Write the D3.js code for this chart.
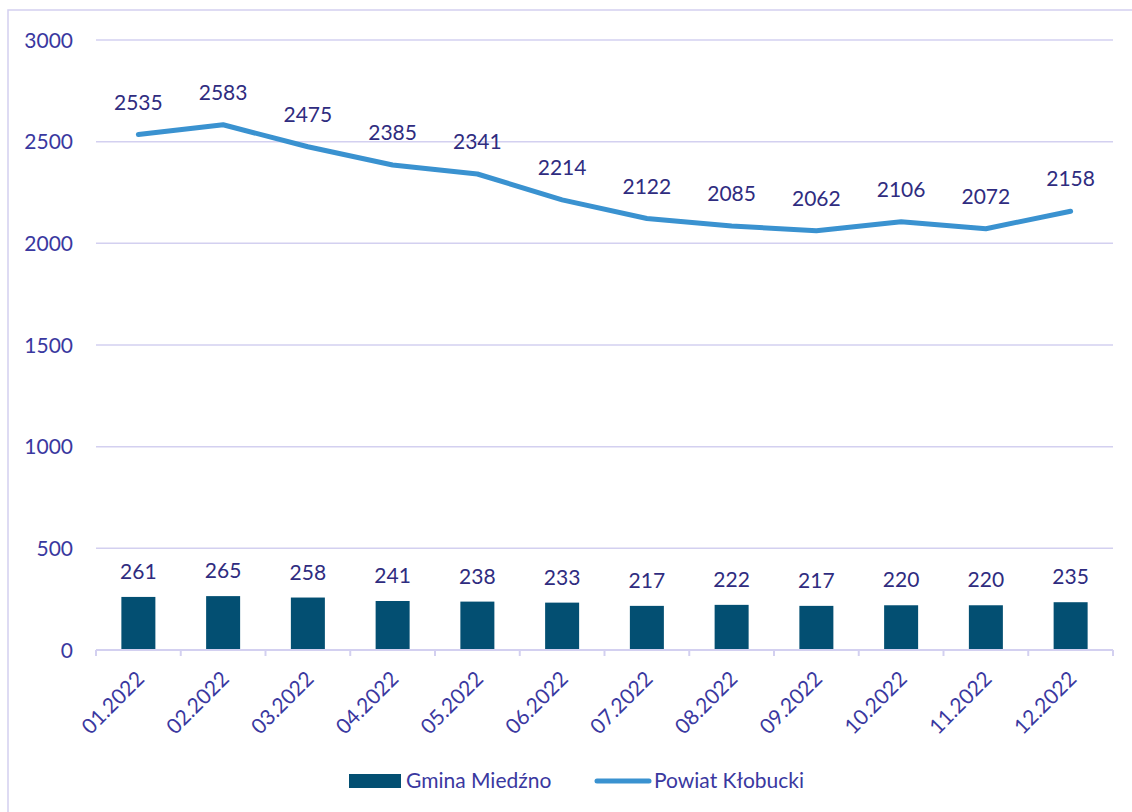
<!DOCTYPE html>
<html>
<head>
<meta charset="utf-8">
<script src="https://cdn.jsdelivr.net/npm/d3@7"></script>
<style>
  body { margin: 0; background: #fff; }
  text { font-family: Lato, "Open Sans", sans-serif; }
</style>
</head>
<body>
<div id="chart"></div>
<script>
// chart data
var months = ['01.2022', '02.2022', '03.2022', '04.2022', '05.2022', '06.2022',
              '07.2022', '08.2022', '09.2022', '10.2022', '11.2022', '12.2022'];
var gmina = [261, 265, 258, 241, 238, 233, 217, 222, 217, 220, 220, 235];
var powiat = [2535, 2583, 2475, 2385, 2341, 2214, 2122, 2085, 2062, 2106, 2072, 2158];
var yTicks = [0, 500, 1000, 1500, 2000, 2500, 3000];
var seriesNames = ['Gmina Miedźno', 'Powiat Kłobucki'];

var W = 1132, H = 812,
    margin = {top: 40, right: 19, bottom: 162, left: 96},
    width = W - margin.left - margin.right,
    height = H - margin.top - margin.bottom;

var barColor = '#034f72', lineColor = '#3a92d0', gridColor = '#d3d0f0',
    labelColor = '#2f2c80', axisColor = '#3a38a0';
var fs = '21px';

var svg = d3.select('#chart').append('svg')
    .attr('width', W).attr('height', H);

// outer frame
svg.append('rect')
    .attr('x', 8).attr('y', 10).attr('width', W).attr('height', H)
    .attr('fill', 'none').attr('stroke', gridColor).attr('stroke-width', 1.5);

var g = svg.append('g')
    .attr('transform', 'translate(' + margin.left + ',' + margin.top + ')');

var x = d3.scaleBand().domain(months).range([0, width]).padding(0);
var y = d3.scaleLinear().domain([0, 3000]).range([height, 0]);

// grid
g.selectAll('.grid').data(yTicks.filter(d => d > 0)).enter()
  .append('line')
    .attr('x1', 0).attr('x2', width)
    .attr('y1', d => y(d)).attr('y2', d => y(d))
    .attr('stroke', gridColor).attr('stroke-width', 1.5);

// y labels
g.selectAll('.ylab').data(yTicks).enter()
  .append('text')
    .attr('x', -23).attr('y', d => y(d)).attr('dy', '0.36em')
    .attr('text-anchor', 'end')
    .style('font-size', fs).attr('fill', axisColor)
    .text(d => d);

// bars
var bw = 34;
g.selectAll('.bar').data(gmina).enter()
  .append('rect')
    .attr('x', (d, i) => x(months[i]) + x.bandwidth() / 2 - bw / 2)
    .attr('y', d => y(d))
    .attr('width', bw)
    .attr('height', d => y(0) - y(d))
    .attr('fill', barColor);

g.selectAll('.barlab').data(gmina).enter()
  .append('text')
    .attr('x', (d, i) => x(months[i]) + x.bandwidth() / 2)
    .attr('y', d => y(d) - 18)
    .attr('text-anchor', 'middle')
    .style('font-size', fs).attr('fill', labelColor)
    .text(d => d);

// x axis
var xAxis = g.append('g').attr('transform', 'translate(0,' + height + ')');
xAxis.append('line').attr('x1', 0).attr('x2', width)
    .attr('stroke', gridColor).attr('stroke-width', 2);
xAxis.selectAll('.tick').data(d3.range(months.length + 1)).enter()
  .append('line')
    .attr('x1', i => i * x.step()).attr('x2', i => i * x.step())
    .attr('y1', 0).attr('y2', 6)
    .attr('stroke', gridColor).attr('stroke-width', 2);
xAxis.selectAll('.xlab').data(months).enter()
  .append('text')
    .attr('transform', d => 'translate(' + (x(d) + x.bandwidth() / 2 + 2) + ',25) rotate(-45)')
    .attr('text-anchor', 'end')
    .attr('dy', '0.35em')
    .style('font-size', fs).attr('fill', axisColor)
    .text(d => d);

// line
var line = d3.line()
    .x((d, i) => x(months[i]) + x.bandwidth() / 2)
    .y(d => y(d));
g.append('path').datum(powiat)
    .attr('d', line)
    .attr('fill', 'none').attr('stroke', lineColor)
    .attr('stroke-width', 5).attr('stroke-linecap', 'round').attr('stroke-linejoin', 'round');

g.selectAll('.linelab').data(powiat).enter()
  .append('text')
    .attr('x', (d, i) => x(months[i]) + x.bandwidth() / 2)
    .attr('y', d => y(d) - 25)
    .attr('text-anchor', 'middle')
    .style('font-size', fs).attr('fill', labelColor)
    .text(d => d);

// legend
var lg = svg.append('g');
lg.append('rect').attr('x', 349).attr('y', 774).attr('width', 52).attr('height', 14).attr('fill', barColor);
lg.append('text').attr('x', 406).attr('y', 781).attr('dy', '0.35em')
    .style('font-size', fs).attr('fill', axisColor).text(seriesNames[0]);
lg.append('line').attr('x1', 597).attr('x2', 649).attr('y1', 781).attr('y2', 781)
    .attr('stroke', lineColor).attr('stroke-width', 5).attr('stroke-linecap', 'round');
lg.append('text').attr('x', 654).attr('y', 781).attr('dy', '0.35em')
    .style('font-size', fs).attr('fill', axisColor).text(seriesNames[1]);
</script>
</body>
</html>
